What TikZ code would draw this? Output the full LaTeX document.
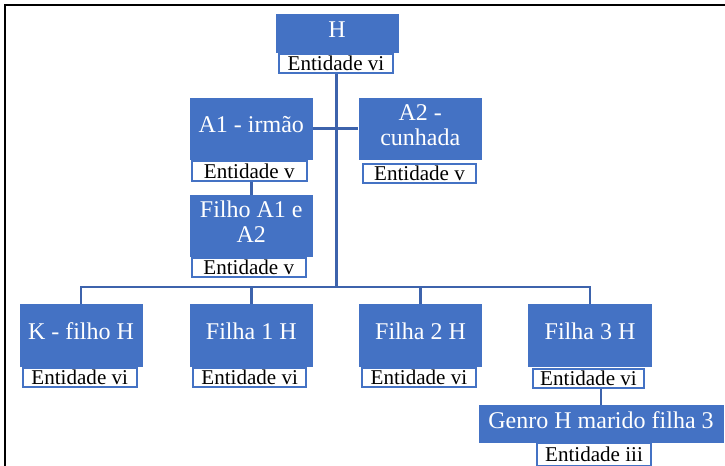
\documentclass[tikz,border=0pt]{standalone}
\usepackage{fontspec}
\setmainfont{Liberation Serif}
\definecolor{boxblue}{RGB}{68,114,196}
\definecolor{lineblue}{RGB}{61,99,172}
\newcommand{\sdp}{\rule[-6pt]{0pt}{6pt}}
\begin{document}
\begin{tikzpicture}[x=0.75pt,y=-0.75pt,
  person/.style 2 args={fill=boxblue, text=white, inner sep=0pt, align=center,
    font=\fontsize{18}{19}\selectfont, minimum width=#1*0.75pt, minimum height=#2*0.75pt},
  role/.style 2 args={fill=white, draw=boxblue, line width=1.5pt, inner sep=0pt,
    font=\fontsize{15.8}{17}\selectfont, minimum width=#1*0.75pt, minimum height=#2*0.75pt},
  conn/.style={draw=lineblue, line width=2.2pt},
  frameline/.style={draw=black, line width=1.5pt}]
\useasboundingbox (0,0) rectangle (725,465);
\clip (0,0) rectangle (725,465);
\draw[frameline] (5.3,470) -- (5.3,5.3) -- (730,5.3);

\node[person={123}{39}] (H) at (337,33.5) {H\sdp};
\node[role={114}{19.3}] (Hl) at (336,63.3) {Entidade vi};

\node[person={123.5}{62.3}] (A1) at (251.25,128.85) {A1 - irmão\sdp};
\node[role={114.5}{20}] (A1l) at (249.25,171) {Entidade v};

\node[person={123}{62.3}] (A2) at (420.25,128.85) {A2 -\\cunhada\sdp};
\node[role={113}{19.3}] (A2l) at (419.5,173.35) {Entidade v};

\node[person={123.5}{62}] (Filho) at (251.25,226) {Filho A1 e\\A2\sdp};
\node[role={113.5}{19}] (Filhol) at (248.75,267.5) {Entidade v};

\node[person={123}{62.5}] (K) at (81,335.25) {K - filho H\sdp};
\node[role={114}{19.3}] (Kl) at (79.75,377.3) {Entidade vi};

\node[person={123.5}{62.5}] (F1) at (251.25,335.25) {Filha 1 H\sdp};
\node[role={113.5}{19.3}] (F1l) at (249.7,377.3) {Entidade vi};

\node[person={123}{62.5}] (F2) at (420.5,335.25) {Filha 2 H\sdp};
\node[role={114.5}{19.3}] (F2l) at (418.9,377.3) {Entidade vi};

\node[person={123.5}{62.5}] (F3) at (590,335.25) {Filha 3 H\sdp};
\node[role={111.7}{19}] (F3l) at (588.5,378.5) {Entidade vi};

\node[person={245}{37.7}] (Genro) at (601,423.85) {Genro H marido filha 3\sdp};
\node[role={114}{23}] (Genrol) at (594,454.5) {Entidade iii};

\coordinate (bus) at (336.6,287);
\draw[conn] (Hl.south -| bus) -- (bus);
\draw[conn] (A1.east) -- (A2.west);
\draw[conn] (A1l.south -| A1.south) -- (Filho.north);
\foreach \c in {K,F1,F2,F3} \draw[conn] (bus) -| (\c.north);
\draw[conn] (F3l.south -| Genro.north) -- (Genro.north);
\end{tikzpicture}
\end{document}
